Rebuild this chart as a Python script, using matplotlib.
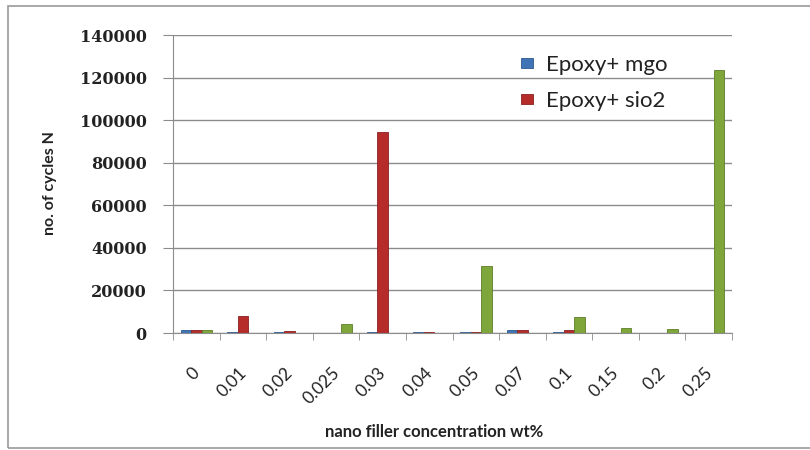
import matplotlib
matplotlib.use('Agg')
import matplotlib.pyplot as plt
from matplotlib.patches import Rectangle
from matplotlib.transforms import ScaledTranslation
import numpy as np

# data
concentrations = ['0', '0.01', '0.02', '0.025', '0.03', '0.04', '0.05', '0.07', '0.1', '0.15', '0.2', '0.25']
mgo_cycles = [1500, 500, 500, 0, 500, 300, 500, 1200, 400, 0, 0, 0]
sio2_cycles = [1500, 8000, 1100, 0, 94500, 500, 500, 1200, 1300, 0, 0, 0]
third_cycles = [1500, 0, 0, 4400, 0, 0, 31600, 0, 7700, 2300, 1800, 123500]
legend_labels = ['Epoxy+ mgo', 'Epoxy+ sio2']
y_ticks = [0, 20000, 40000, 60000, 80000, 100000, 120000, 140000]

W, H = 810, 450
fig = plt.figure(figsize=(W / 100, H / 100), dpi=100)
ax = fig.add_axes([173 / W, 1 - 333 / H, (732 - 173) / W, (333 - 35) / H])

x = np.arange(len(concentrations))
w = 0.225
grey = '#8c8c8c'

ax.set_axisbelow(True)
ax.grid(axis='y', color=grey, linewidth=1.0)
b1 = ax.bar(x - w, mgo_cycles, w, color='#3f74b6', edgecolor='#2d5a90', linewidth=0.6)
b2 = ax.bar(x, sio2_cycles, w, color='#b52c2a', edgecolor='#8a1f1e', linewidth=0.6)
ax.bar(x + w, third_cycles, w, color='#7fa63a', edgecolor='#5e7f27', linewidth=0.6)

ax.set_xlim(-0.5, len(concentrations) - 0.5)
ax.set_ylim(0, 140000)
ax.set_yticks(y_ticks)
ax.set_yticklabels([str(v) for v in y_ticks], fontfamily='DejaVu Serif',
                   fontweight='bold', fontsize=11.5, color='#222222')
ax.tick_params(axis='y', direction='out', length=7, color=grey, pad=12)

ax.set_xticks(x)
ax.set_xticks(np.arange(-0.5, len(concentrations)), minor=True)
ax.tick_params(axis='x', which='major', length=0, pad=27)
ax.tick_params(axis='x', which='minor', direction='out', length=5, color=grey)
ax.set_xticklabels(concentrations, rotation=45, ha='right', va='center',
                   rotation_mode='anchor', fontfamily='Lato', fontsize=12.5,
                   color='#222222')
off = ScaledTranslation(1 / 100, 0, fig.dpi_scale_trans)
for lab in ax.get_xticklabels():
    lab.set_transform(lab.get_transform() + off)

for side in ['top', 'right']:
    ax.spines[side].set_visible(False)
for side in ['left', 'bottom']:
    ax.spines[side].set_color(grey)

ax.set_ylabel('no. of cycles N', fontfamily='Lato', fontweight='bold', fontsize=11.5,
              color='#222222')
ax.yaxis.set_label_coords((57 - 173) / 559, (333 - 183.5) / 298)
ax.set_xlabel('nano filler concentration wt%', fontfamily='Lato', fontweight='bold',
              fontsize=12, color='#222222', va='center')
ax.xaxis.set_label_coords((434 - 173) / 559, -(432 - 333) / 298)

fig.legend([b1, b2], legend_labels, loc='upper left',
           bbox_to_anchor=(510 / W, 1 - 44 / H), frameon=False, borderpad=0,
           prop={'family': 'Lato', 'size': 16}, handlelength=0.55, handleheight=0.3,
           handletextpad=0.55, labelspacing=0.7, labelcolor='#222222')

fig.add_artist(Rectangle((8 / W, 2 / H), 1.0, (448 - 6) / H, transform=fig.transFigure,
                         fill=False, edgecolor='#9a9a9a', linewidth=1.2))

fig.savefig('out.png', dpi=100)
